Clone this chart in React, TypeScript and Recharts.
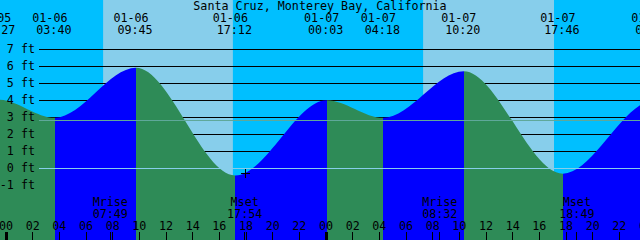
import { ComposedChart, Area, XAxis, YAxis, ReferenceArea, ReferenceLine, ReferenceDot } from 'recharts';

// tide extremes (high / low); the first and last lows lie outside the visible window
const TIDE_DATES = ['01-05', '01-05', '01-06', '01-06', '01-06', '01-07', '01-07', '01-07', '01-07', '01-08', '01-08'];
const TIDE_TIMES = ['16:40', '23:27', '03:40', '09:45', '17:12', '00:03', '04:18', '10:20', '17:46', '00:35', '04:55'];
const TIDE_FT = [-0.5, 4.05, 2.98, 5.92, -0.41, 4.02, 2.98, 5.72, -0.31, 3.98, 3.0];

// daylight
const SUN_DATES = ['01-06', '01-07'];
const SUNRISE = ['07:17', '07:17'];
const SUNSET = ['17:01', '17:06'];

// moon
const MOON_EVENTS = ['Mrise', 'Mset', 'Mrise', 'Mset'];
const MOON_DATES = ['01-06', '01-06', '01-07', '01-07'];
const MOON_TIMES = ['07:49', '17:54', '08:32', '18:49'];

// hours since 01-06 00:00
const HOUR_TICKS = [0, 2, 4, 6, 8, 10, 12, 14, 16, 18, 20, 22, 24, 26, 28, 30, 32, 34, 36, 38, 40, 42, 44, 46, 48];
const FT_TICKS = [-1, 0, 1, 2, 3, 4, 5, 6, 7];
const GRID_FT = [1, 2, 3, 4, 5, 6, 7];
const MEAN_FT = 2.82;
const NOW_DATE = '01-06';
const NOW_TIME = '17:56';
const NOW_FT = -0.28;

const TITLE = 'Santa Cruz, Monterey Bay, California';

const W = 640;
const H = 240;
const X_MIN = -0.45;
const X_MAX = 47.55;
const Y_MIN = -(H - 168.5) / 17;
const Y_MAX = 168.5 / 17;
const GRID_LEFT_PX = 39;

const NIGHT = '#00bfff';
const DAY = '#87ceeb';
const FALLING = '#2e8b57';
const RISING = '#0000ff';

const FONT = { fontFamily: '"DejaVu Sans Mono", monospace', fontSize: 11.7, fill: '#000' };

function hoursOf(date: string, time: string) {
  const day = Number(date.split('-')[1]);
  const [h, m] = time.split(':').map(Number);
  return (day - 6) * 24 + h + m / 60;
}

const tideHours = TIDE_DATES.map((d, i) => hoursOf(d, TIDE_TIMES[i]));
const data = tideHours.map((t, i) => ({ t, ft: TIDE_FT[i] }));
const moonHours = MOON_DATES.map((d, i) => hoursOf(d, MOON_TIMES[i]));
const gridX0 = X_MIN + (GRID_LEFT_PX / W) * (X_MAX - X_MIN);

const frac = (t: number) => (t - X_MIN) / (X_MAX - X_MIN);

function TideGradient() {
  const stops: { offset: number; color: string }[] = [];
  for (let i = 0; i < tideHours.length - 1; i++) {
    const color = TIDE_FT[i + 1] < TIDE_FT[i] ? FALLING : RISING;
    stops.push({ offset: frac(tideHours[i]), color });
    stops.push({ offset: frac(tideHours[i + 1]), color });
  }
  return (
    <linearGradient id="tideFill" gradientUnits="userSpaceOnUse" x1={0} y1={0} x2={W} y2={0}>
      {stops.map((s, i) => (
        <stop key={i} offset={Math.min(1, Math.max(0, s.offset))} stopColor={s.color} />
      ))}
    </linearGradient>
  );
}

function FtTick(props: any) {
  const { y, payload } = props;
  return (
    <text x={35} y={y + 3.5} textAnchor="end" {...FONT}>
      {payload.value} ft
    </text>
  );
}

function ExtremeTick(props: any) {
  const { x, payload } = props;
  const i = tideHours.indexOf(payload.value);
  if (i < 0) return null;
  return (
    <g>
      <text x={x - 5} y={22} textAnchor="middle" {...FONT}>{TIDE_DATES[i]}</text>
      <text x={x - 1} y={34} textAnchor="middle" {...FONT}>{TIDE_TIMES[i]}</text>
    </g>
  );
}

function HourTick(props: any) {
  const { x, payload } = props;
  const v = payload.value;
  const m = moonHours.indexOf(v);
  if (m >= 0) {
    return (
      <g>
        <line x1={x} x2={x} y1={232} y2={240} stroke="#000" shapeRendering="crispEdges" />
        <text x={x} y={206} textAnchor="middle" {...FONT}>{MOON_EVENTS[m]}</text>
        <text x={x} y={218} textAnchor="middle" {...FONT}>{MOON_TIMES[m]}</text>
      </g>
    );
  }
  const hh = ((v % 24) + 24) % 24;
  return (
    <g>
      <line x1={x} x2={x} y1={232} y2={240} stroke="#000" strokeWidth={hh === 0 ? 3 : 1} shapeRendering="crispEdges" />
      <text x={x} y={230} textAnchor="middle" {...FONT}>{String(hh).padStart(2, '0')}</text>
    </g>
  );
}

function NowMark(props: any) {
  const { cx, cy } = props;
  return (
    <path
      d={`M${cx - 4},${cy}H${cx + 5}M${cx},${cy - 4}V${cy + 5}`}
      stroke="#000"
      strokeWidth={1}
      fill="none"
      shapeRendering="crispEdges"
    />
  );
}

export default function App() {
  return (
    <div style={{ position: 'absolute', left: 0, top: 0, width: W, height: H, background: NIGHT, overflow: 'hidden' }}>
      <ComposedChart width={W} height={H} data={data} margin={{ top: -1, right: 0, bottom: -1, left: -1 }}>
        <defs>
          <TideGradient />
        </defs>
        <XAxis
          xAxisId="hours"
          dataKey="t"
          type="number"
          domain={[X_MIN, X_MAX]}
          allowDataOverflow
          ticks={[...HOUR_TICKS, ...moonHours]}
          interval={0}
          height={1}
          axisLine={false}
          tickLine={false}
          tick={<HourTick />}
        />
        <XAxis
          xAxisId="tides"
          orientation="top"
          dataKey="t"
          type="number"
          domain={[X_MIN, X_MAX]}
          allowDataOverflow
          ticks={tideHours}
          interval={0}
          height={1}
          axisLine={false}
          tickLine={false}
          tick={<ExtremeTick />}
        />
        <YAxis
          type="number"
          domain={[Y_MIN, Y_MAX]}
          allowDataOverflow
          ticks={FT_TICKS}
          interval={0}
          width={1}
          axisLine={false}
          tickLine={false}
          tick={<FtTick />}
        />
        {SUN_DATES.map((d, i) => (
          <ReferenceArea
            key={d}
            xAxisId="hours"
            x1={hoursOf(d, SUNRISE[i])}
            x2={hoursOf(d, SUNSET[i])}
            fill={DAY}
            fillOpacity={1}
            stroke="none"
            zIndex={-200}
          />
        ))}
        {GRID_FT.map((v) => (
          <ReferenceLine
            key={v}
            xAxisId="hours"
            segment={[{ x: gridX0, y: v }, { x: X_MAX, y: v }]}
            stroke="#000"
            shapeRendering="crispEdges"
            zIndex={-150}
          />
        ))}
        <Area
          xAxisId="hours"
          dataKey="ft"
          type="monotone"
          baseValue="dataMin"
          stroke="none"
          fill="url(#tideFill)"
          fillOpacity={1}
          isAnimationActive={false}
          dot={false}
          activeDot={false}
          zIndex={100}
        />
        <ReferenceLine
          xAxisId="hours"
          segment={[{ x: gridX0, y: 0 }, { x: X_MAX, y: 0 }]}
          stroke={DAY}
          shapeRendering="crispEdges"
          zIndex={450}
        />
        <ReferenceLine
          xAxisId="hours"
          segment={[{ x: gridX0, y: MEAN_FT }, { x: X_MAX, y: MEAN_FT }]}
          stroke="#5fa89a"
          shapeRendering="crispEdges"
          zIndex={450}
        />
        <ReferenceDot
          xAxisId="hours"
          x={hoursOf(NOW_DATE, NOW_TIME)}
          y={NOW_FT}
          shape={(p: any) => <NowMark {...p} />}
          zIndex={600}
        />
        <text x={W / 2} y={10} textAnchor="middle" {...FONT}>{TITLE}</text>
      </ComposedChart>
    </div>
  );
}
